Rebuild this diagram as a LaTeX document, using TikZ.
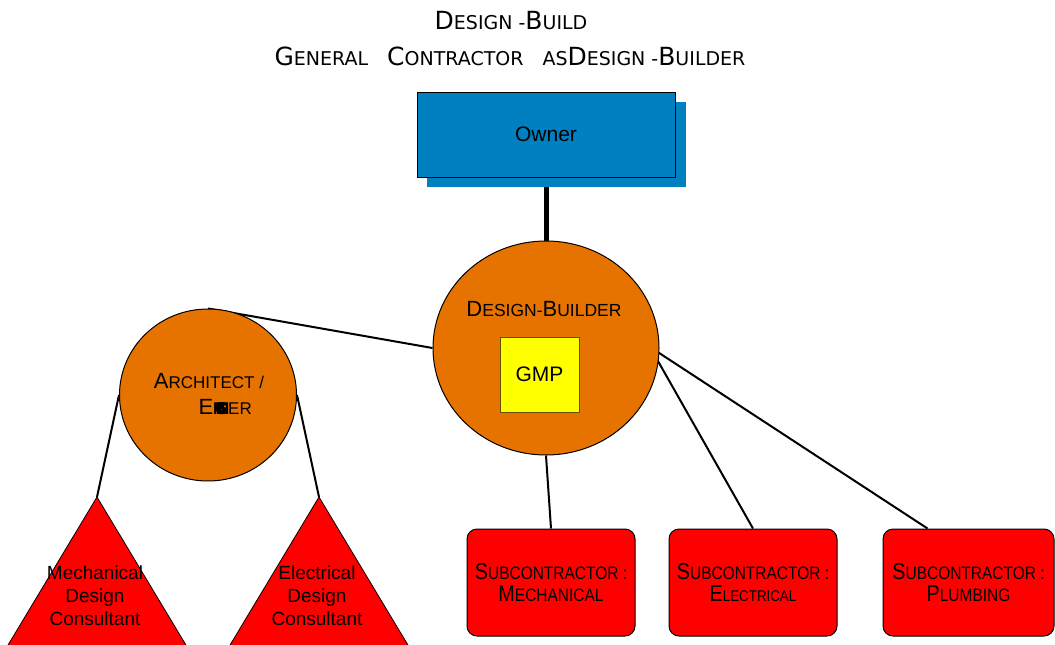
\documentclass[tikz,border=0pt]{standalone}
\usepackage{fontspec}
\setmainfont{Liberation Sans}
\newfontfamily\titlefont{DejaVu Sans}
\usetikzlibrary{shapes.geometric}
\definecolor{ownerblue}{RGB}{0,128,192}
\definecolor{dborange}{RGB}{230,114,0}
\definecolor{subred}{RGB}{255,0,0}
\definecolor{gmpyellow}{RGB}{255,255,0}
\definecolor{gmpedge}{RGB}{100,80,0}
\pgfdeclarelayer{bg}
\pgfsetlayers{bg,main}
% fake small caps: large initial, smaller capitals after it
\newcommand\ttbig[1]{{\fontsize{25}{29}\selectfont #1}}
\newcommand\dbbig[1]{{\fontsize{22}{26}\selectfont #1}}
\newcommand\scbig[1]{{\fontsize{23}{27}\selectfont #1}}
\newcommand\narrow[1]{\scalebox{0.86}[1]{#1}}
\begin{document}
\begin{tikzpicture}[x=1pt,y=-1pt,
  conn/.style={line width=2pt},
  thickconn/.style={line width=5pt},
  roundnode/.style={ellipse,draw=black,line width=1pt,fill=dborange,inner sep=0pt},
  subbox/.style={draw=black,line width=1pt,fill=subred,rounded corners=10pt,
    minimum width=168pt,minimum height=107pt,align=center,
    font=\fontsize{18}{22}\selectfont},
  consult/.style={draw=black,line width=0.8pt,fill=subred},
  consulttext/.style={align=center,font=\fontsize{19}{23}\selectfont},
  titletext/.style={font=\titlefont\fontsize{19}{23}\selectfont}]
\clip (0,0) rectangle (1055,645);

% heading
\node[titletext] (title1) at (511,21) {\ttbig{D}ESIGN -\ttbig{B}UILD};
\node[titletext] (title2) at (510,56) {\ttbig{G}ENERAL\hspace{19pt}\ttbig{C}ONTRACTOR\hspace{19pt}AS\ttbig{D}ESIGN -\ttbig{B}UILDER};

% owner with its drop shadow
\fill[ownerblue] (427,102) rectangle (686,187);
\node[draw=black,line width=1pt,fill=ownerblue,minimum width=258pt,minimum height=85pt,
  font=\fontsize{21}{25}\selectfont] (owner) at (546,134.5) {Owner};

% design-builder with GMP
\node[roundnode,minimum width=226pt,minimum height=214pt] (db) at (546,348) {};
\node[font=\fontsize{17.5}{21}\selectfont] (dblabel) at (544,309) {\dbbig{D}ESIGN-\dbbig{B}UILDER};
\node[draw=gmpedge,line width=1pt,fill=gmpyellow,minimum width=79pt,minimum height=75pt,
  font=\fontsize{21}{25}\selectfont] (gmp) at (539.5,374.5) {GMP};
\coordinate (dbside) at (650,347);

% architect / engineer
\node[roundnode,minimum width=177pt,minimum height=172pt] (arch) at (208,395) {};
\node[font=\fontsize{17}{20}\selectfont] (archlabel1) at (209,381) {\dbbig{A}RCHITECT /};
\node[font=\fontsize{17}{20}\selectfont,anchor=west] (archlabel2) at (195,407)
  {\dbbig{E}\makebox[15pt][l]{\bfseries\rlap{N}\rlap{\kern2pt G}\rlap{\kern5pt I}\rlap{\kern4pt N}\rlap{\kern3pt E}}ER};

% design consultants
\coordinate (mechapex) at (97,497);
\coordinate (elecapex) at (319,497);
\filldraw[consult] (mechapex) -- ++(-122,203) -- ++(244,0) -- cycle;
\filldraw[consult] (elecapex) -- ++(-122,203) -- ++(244,0) -- cycle;
\node[consulttext] (mechtext) at (95,596) {Mechanical\\Design\\Consultant};
\node[consulttext] (electext) at (317,596) {Electrical\\Design\\Consultant};

% subcontractors
\node[subbox] (sub1) at (551,582.5) {\narrow{\scbig{S}UBCONTRACTOR :}\\\narrow{\scbig{M}ECHANICAL}};
\node[subbox] (sub2) at (753,582.5) {\narrow{\scbig{S}UBCONTRACTOR :}\\\narrow{\fontsize{15.5}{20}\selectfont\scbig{E}LECTRICAL}};
\node[subbox,minimum width=171pt] (sub3) at (968.5,582.5) {\narrow{\scbig{S}UBCONTRACTOR :}\\\narrow{\scbig{P}LUMBING}};

% connectors
\begin{pgfonlayer}{bg}
  \draw[thickconn] (owner.south) -- (db.north);
  \draw[conn] (arch.north) -- (db.west);
  \draw[conn] (arch.west) -- (mechapex);
  \draw[conn] (arch.east) -- (elecapex);
  \draw[conn] (db.south) -- (sub1.north);
  \draw[conn] (dbside) -- (sub2.north);
  \draw[conn] (dbside) -- ([xshift=45pt]sub3.north west);
\end{pgfonlayer}
\end{tikzpicture}
\end{document}
